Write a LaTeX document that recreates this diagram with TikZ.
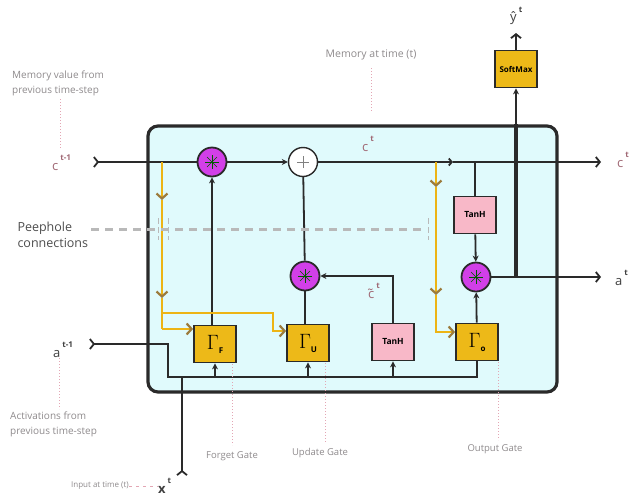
\documentclass[tikz,border=0pt]{standalone}
\usepackage{fontspec}
\setmainfont{Open Sans}
\usetikzlibrary{arrows.meta,positioning}
\definecolor{cellfill}{HTML}{E0FAFC}
\definecolor{gatefill}{HTML}{EDB918}
\definecolor{tanhfill}{HTML}{F8B8C8}
\definecolor{mulfill}{HTML}{D23FE8}
\definecolor{peepcol}{HTML}{EDB414}
\definecolor{peeptipcol}{HTML}{9C7B3C}
\definecolor{notegray}{HTML}{8E8A8C}
\definecolor{notedot}{HTML}{E3A6B4}
\definecolor{clabel}{HTML}{A06874}
\definecolor{wire}{HTML}{2A2A2A}
\newcommand{\gatelbl}[1]{\fontsize{22}{22}\selectfont$\Gamma$\raisebox{-4pt}{\fontsize{8}{8}\selectfont\bfseries #1}}
\newcommand{\symlbl}[2]{#1\hspace{2pt}\raisebox{1.4ex}{\fontsize{8}{8}\selectfont\bfseries #2}}
\tikzset{
  cellbox/.style={draw=wire, line width=3.2pt, rounded corners=10pt, fill=cellfill,
    minimum width=409pt, minimum height=266pt},
  gatebox/.style={draw=wire, line width=1.8pt, fill=gatefill, minimum width=42pt,
    minimum height=37pt, inner sep=0pt},
  tanhbox/.style={draw=wire, line width=1.8pt, fill=tanhfill, minimum width=42pt,
    minimum height=37pt, inner sep=0pt, font=\fontsize{8.5}{9}\selectfont\bfseries},
  mulop/.style={circle, draw=wire, line width=1.8pt, fill=mulfill, minimum size=29pt, inner sep=0pt,
    path picture={\foreach \ang in {0,45,90,135}
      \draw[green!35!black, line width=0.4pt] (path picture bounding box.center) ++(\ang:7pt) -- ++(\ang+180:14pt);}},
  addop/.style={circle, draw=wire, line width=1.4pt, fill=white, minimum size=29pt, inner sep=0pt,
    path picture={\draw[gray, line width=0.8pt]
      (path picture bounding box.center) ++(-6pt,0) -- ++(12pt,0)
      (path picture bounding box.center) ++(0,-6pt) -- ++(0,12pt);}},
  wireline/.style={draw=wire, line width=1.8pt},
  flow/.style={wireline, -{Stealth[length=6pt,width=6pt]}},
  inbarb/.style={wireline, {Straight Barb[reversed,length=4pt,width=10pt]}-},
  outbarb/.style={wireline, -{Straight Barb[length=4pt,width=10pt]}},
  peep/.style={draw=peepcol, line width=2.2pt},
  peeptip/.style={peep, -{Straight Barb[length=5pt,width=11pt,color=peeptipcol]}},
  peepdash/.style={draw=gray!55, line width=3pt, dash pattern=on 8pt off 6pt},
  peeptick/.style={draw=gray!55, line width=0.8pt, dash pattern=on 6pt off 3pt},
  note/.style={text=notegray, font=\fontsize{10}{15}\selectfont, align=left, inner sep=0pt},
  notedots/.style={draw=notedot, dotted, line width=1pt},
  symc/.style={text=clabel, font=\fontsize{13}{13}\selectfont, inner sep=0pt, anchor=west},
  syma/.style={text=black!75, font=\fontsize{13}{13}\selectfont, inner sep=0pt, anchor=west},
}
\begin{document}
\begin{tikzpicture}[x=1pt, y=-1pt]
\useasboundingbox (0,0) rectangle (635,499);
\node[cellbox] (cell) at (352.5,259) {};

\node[mulop] (fmul) at (212,162) {};
\node[addop] (cadd) at (303,162) {};
\node[mulop] (umul) at (305,276) {};
\node[mulop] (omul) at (476,277) {};
\node[tanhbox] (ctanh) at (475,215) {TanH};
\node[gatebox] (fgate) at (215,344) {\gatelbl{F}};
\node[gatebox] (ugate) at (308,343) {\gatelbl{U}};
\node[tanhbox] (utanh) at (393,342) {TanH};
\node[gatebox] (ogate) at (477,342) {\gatelbl{o}};
\node[gatebox, font=\fontsize{8}{9}\selectfont\bfseries] (smax) at (516,69) {SoftMax};

\coordinate (cin) at (93,162);
\coordinate (cmid) at (453,162);
\coordinate (cout) at (601,162);
\coordinate (ain) at (89,344);
\coordinate (abend) at (168,344);
\coordinate (bus) at (168,377);
\coordinate (aout) at (601,277);
\coordinate (ajoin) at (516,277);
\coordinate (xin) at (182,476);
\coordinate (yout) at (516,33);

% memory line
\draw[inbarb] (cin) -- (fmul);
\draw[flow] (fmul) -- (cadd);
\draw[wireline, -{Straight Barb[length=3pt,width=7pt]}] (cadd) -- (cmid);
\draw[outbarb] (cmid) -- (cout);
\draw[wireline] (cadd) -- (umul);
\draw[flow] (fgate.north -| fmul) -- (fmul);
\draw[wireline] (ugate.north -| umul) -- (umul);
\draw[flow] (utanh.north) |- (umul);
\draw[wireline] (ctanh.north |- cout) -- (ctanh.north);
\draw[flow] (ctanh) -- (omul);
\draw[flow] (ogate) -- (omul);

% activations
\draw[outbarb] (omul) -- (aout);
\draw[flow] (ajoin) -- (smax.south);
\draw[draw=wire, line width=3.2pt] (cell.north -| ajoin) -- (ajoin);
\draw[outbarb] (smax) -- (yout);
\draw[inbarb] (ain) -- (abend) -- (bus) -| (ogate.south);
\draw[inbarb] (xin) -- (xin |- bus);
\draw[flow] (fgate.south |- bus) -- (fgate.south);
\draw[flow] (ugate.south |- bus) -- (ugate.south);
\draw[flow] (utanh.south |- bus) -- (utanh.south);

% peephole connections
\coordinate (pl0) at (162,162);
\coordinate (pl1) at (162,200);
\coordinate (pl2) at (162,298);
\coordinate (pl3) at (162,313);
\coordinate (pl4) at (162,329);
\coordinate (pu2) at (273,331);
\coordinate (pr0) at (436,162);
\coordinate (pr1) at (436,187);
\coordinate (pr2) at (436,295);
\coordinate (pr3) at (436,332);
\draw[peeptip] (pl0) -- (pl1);
\draw[peeptip] (pl1) -- (pl2);
\draw[peep] (pl2) -- (pl4);
\draw[peeptip] (pl4) -- (fgate.west |- pl4);
\draw[peeptip] (pl3) -| (pu2) -- (ugate.west |- pu2);
\draw[peeptip] (pr0) -- (pr1);
\draw[peeptip] (pr1) -- (pr2);
\draw[peeptip] (pr2) |- (ogate.west |- pr3);

\draw[peepdash] (91,229) -- (423,229);
\draw[peeptick] (158,218) -- (158,240);
\draw[peeptick] (168,218) -- (168,240);
\draw[peeptick] (428,218) -- (428,240);
\node[anchor=west, text=black!70, font=\fontsize{12.5}{16}\selectfont, align=left] (peeplbl) at (14,235) {Peephole\\connections};

% symbols
\node[symc] (cprev) at (52,163) {\symlbl{c}{t-1}};
\node[symc] (cnow) at (362,144) {\symlbl{c}{t}};
\node[symc] (cnext) at (617,160) {\symlbl{c}{t}};
\node[symc] (ctil) at (368,291) {\symlbl{\~{c}}{t}};
\node[syma] (aprev) at (53,350) {\symlbl{a}{t-1}};
\node[syma] (anext) at (615,278) {\symlbl{a}{t}};
\node[syma] (xnow) at (158,486) {\symlbl{\textbf{x}}{t}};
\node[syma] (yhat) at (510,16) {\symlbl{ŷ}{t}};

% notes
\node[note, anchor=west] (memprev) at (12,83) {Memory value from\\previous time-step};
\draw[notedots] (60,99) -- (60,148);
\node[note, font=\fontsize{10.5}{12}\selectfont] (memnow) at (371,55) {Memory at time (t)};
\draw[notedots] (371,68) -- (371,112);
\node[note, anchor=west] (actprev) at (10,424) {Activations from\\previous time-step};
\draw[notedots] (59,358) -- (59,409);
\node[note, font=\fontsize{9.5}{11}\selectfont] (fnote) at (232,456) {Forget Gate};
\draw[notedots] (232,364) -- (232,445);
\node[note, font=\fontsize{9.5}{11}\selectfont] (unote) at (320,453) {Update Gate};
\draw[notedots] (325,363) -- (325,443);
\node[note, font=\fontsize{9.5}{11}\selectfont] (onote) at (495,449) {Output Gate};
\draw[notedots] (498,362) -- (498,440);
\node[note, font=\fontsize{8}{9}\selectfont, anchor=east] (xnote) at (129,486) {Input at time (t)};
\draw[draw=notedot, dash pattern=on 3pt off 4pt, line width=1pt] (xnote) -- (xnow);
\end{tikzpicture}
\end{document}
